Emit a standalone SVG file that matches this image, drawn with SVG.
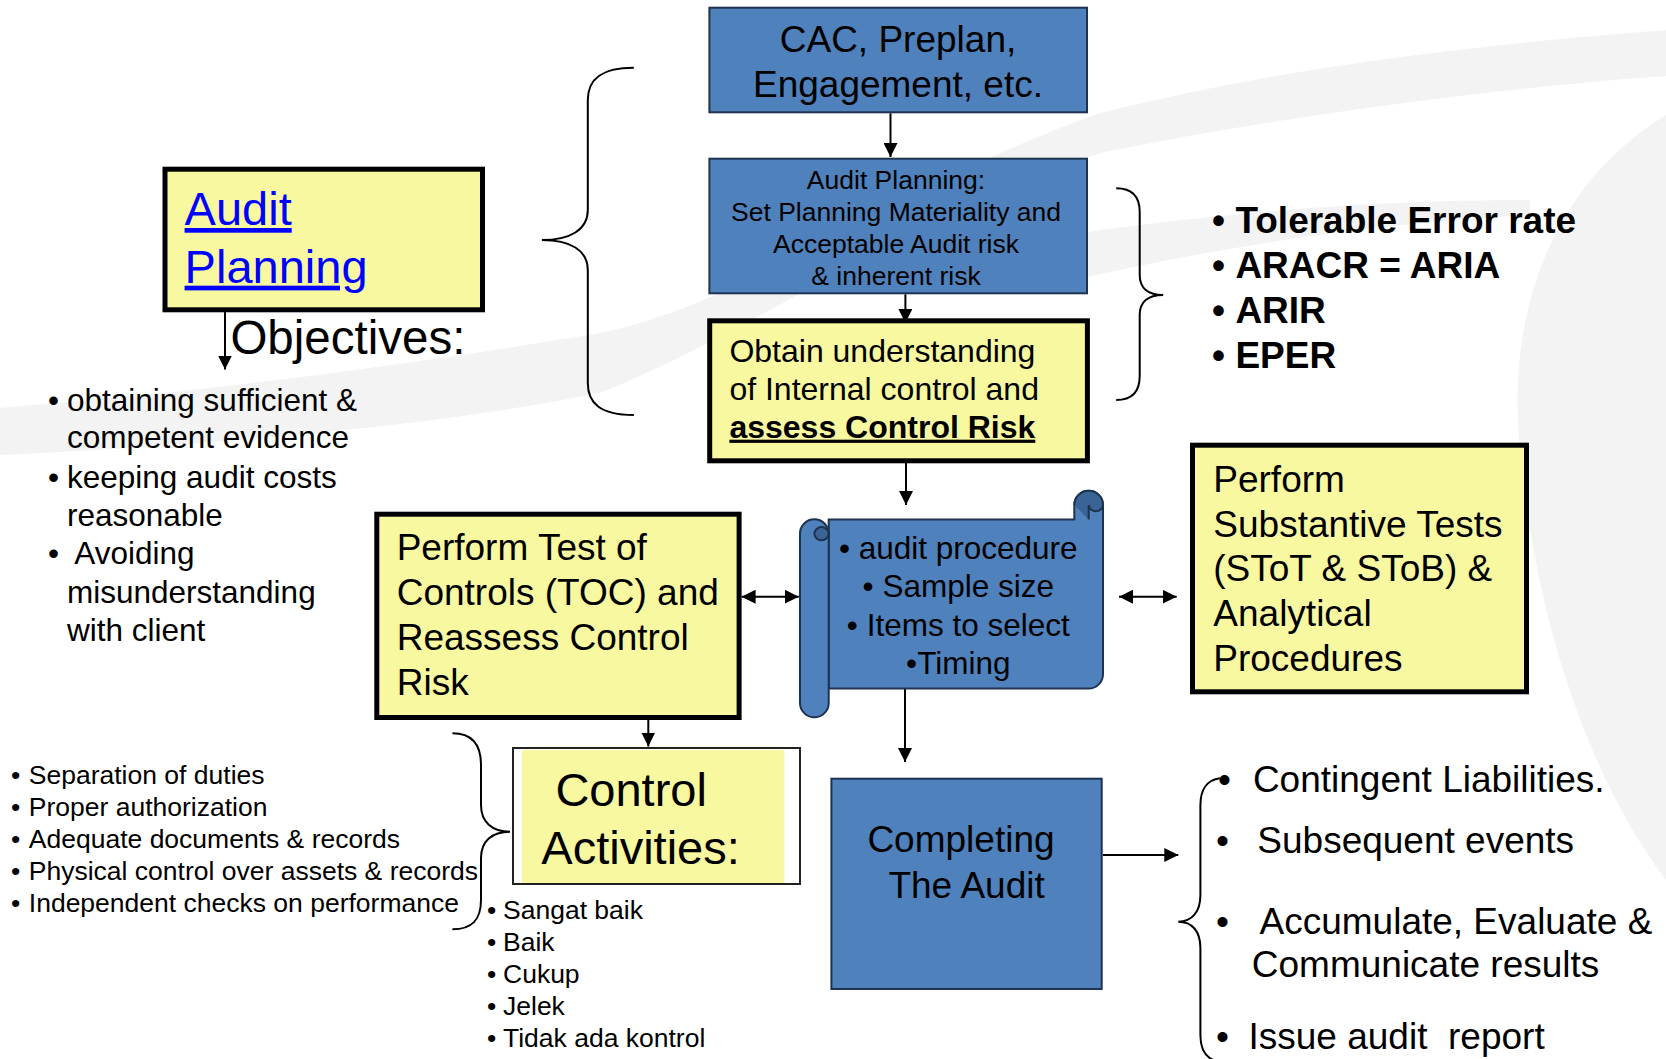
<svg xmlns="http://www.w3.org/2000/svg" width="1666" height="1059" viewBox="0 0 1666 1059">
<style>
.t{font-family:"Liberation Sans",Arial,sans-serif;fill:#000;white-space:pre}
.b{font-weight:bold}
.blue{fill:#4F81BD;stroke:#1E3350;stroke-width:2}
.yel{fill:#F8F8A0;stroke:#000;stroke-width:5}
.ln{stroke:#000;stroke-width:2;fill:none}
.br{stroke:#000;stroke-width:2;fill:none}
.bg{fill:#F3F3F3}
.dk{fill:#3A6496;stroke:#1E3350;stroke-width:2}
</style>
<defs>
<marker id="ah" viewBox="0 0 14 14" refX="14" refY="7" markerWidth="14" markerHeight="14" markerUnits="userSpaceOnUse" orient="auto-start-reverse">
<path d="M0,0 L14,7 L0,14 Z" fill="#000"/>
</marker>
</defs>
<rect width="1666" height="1059" fill="#fff"/>
<g id="background">
<path class="bg" d="M0,408 C250,388 450,358 600,333 C750,303 900,183 1100,113 C1300,63 1500,43 1666,30 L1666,76 C1500,88 1300,113 1100,153 C900,223 750,333 600,393 C450,423 250,443 0,455 Z"/>
<path class="bg" d="M1030,240 C1200,215 1350,200 1530,200 L1530,215 C1350,225 1200,250 1030,290 Z"/>
<path class="bg" d="M1666,115 C1560,180 1505,300 1520,450 C1535,620 1590,780 1666,880 Z"/>
</g>
<g id="connectors">
<line class="ln" x1="890.5" y1="113.3" x2="890.5" y2="157" marker-end="url(#ah)"/>
<line class="ln" x1="905.4" y1="294.3" x2="905.4" y2="323" marker-end="url(#ah)"/>
<line class="ln" x1="906" y1="463" x2="906" y2="505" marker-end="url(#ah)"/>
<line class="ln" x1="225" y1="312" x2="225" y2="369.5" marker-end="url(#ah)"/>
<line class="ln" x1="741.6" y1="596.7" x2="798.8" y2="596.7" marker-start="url(#ah)" marker-end="url(#ah)"/>
<line class="ln" x1="1119" y1="596.7" x2="1176.7" y2="596.7" marker-start="url(#ah)" marker-end="url(#ah)"/>
<line class="ln" x1="648.3" y1="720" x2="648.3" y2="746.5" marker-end="url(#ah)"/>
<line class="ln" x1="905" y1="689" x2="905" y2="762" marker-end="url(#ah)"/>
<line class="ln" x1="1102.7" y1="855" x2="1178.3" y2="855" marker-end="url(#ah)"/>
<path class="br" d="M633.8,67.7 C600,67.7 587.8,80 587.8,100 L587.8,210 C587.8,230 570,240 541.9,240 C570,240 587.8,250 587.8,270 L587.8,383 C587.8,403 600,415 633.8,415"/>
<path class="br" d="M1116.2,188.3 C1132,188.3 1139.7,196 1139.7,212 L1139.7,275 C1139.7,288 1148,295 1163.2,295 C1148,295 1139.7,302 1139.7,315 L1139.7,376 C1139.7,392 1132,400 1116.2,400"/>
<path class="br" d="M452.4,733.3 C472,733.3 481,745 481,765 L481,805 C481,822 492,831.7 510,831.7 C492,831.7 481,841 481,858 L481,900 C481,920 472,929.3 452.4,929.3"/>
<path class="br" d="M1219.8,778.3 C1207,780 1200.4,790 1200.4,805 L1200.4,895 C1200.4,912 1192,921.7 1178.3,921.7 C1192,921.7 1200.4,931 1200.4,948 L1200.4,1035 C1200.4,1050 1206,1058 1216,1061"/>
</g>
<g id="audit-planning-title">
<rect class="yel" x="165" y="169.2" width="317.5" height="140.6"/>
<text class="t" font-size="47" style="fill:#0000FF" text-decoration="underline"><tspan x="184.6" y="225">Audit</tspan><tspan x="184.6" y="282.7">Planning</tspan></text>
</g>
<g id="objectives">
<text class="t" x="230.4" y="354.3" font-size="47.5">Objectives:</text>
<text class="t" font-size="31.5">
<tspan x="48" y="410.5">•</tspan><tspan x="67" y="410.5">obtaining sufficient &amp;</tspan>
<tspan x="67" y="448">competent evidence</tspan>
<tspan x="48" y="487.5">•</tspan><tspan x="67" y="487.5">keeping audit costs</tspan>
<tspan x="67" y="526">reasonable</tspan>
<tspan x="48" y="564.3">•</tspan><tspan x="74.3" y="564.3">Avoiding</tspan>
<tspan x="67" y="603.3">misunderstanding</tspan>
<tspan x="67" y="641">with client</tspan>
</text>
</g>
<g id="cac">
<rect class="blue" x="709.4" y="7.7" width="377.6" height="104.6"/>
<text class="t" font-size="37" text-anchor="middle"><tspan x="898" y="52">CAC, Preplan,</tspan><tspan x="898" y="97">Engagement, etc.</tspan></text>
</g>
<g id="audit-planning">
<rect class="blue" x="709.4" y="158.7" width="377.6" height="134.6"/>
<text class="t" font-size="26.5" text-anchor="middle"><tspan x="896" y="189.3">Audit Planning:</tspan><tspan x="896" y="221">Set Planning Materiality and</tspan><tspan x="896" y="252.7">Acceptable Audit risk</tspan><tspan x="896" y="285">&amp; inherent risk</tspan></text>
</g>
<g id="obtain">
<rect class="yel" x="709.7" y="320.8" width="377.7" height="140"/>
<text class="t" font-size="32"><tspan x="729.4" y="361.5">Obtain understanding</tspan><tspan x="729.4" y="399.8">of Internal control and</tspan><tspan x="729.4" y="437.7" font-weight="bold" text-decoration="underline">assess Control Risk</tspan></text>
</g>
<g id="risk-list">
<text class="t b" font-size="37">
<tspan x="1212" y="232.7">•</tspan><tspan x="1235.4" y="232.7">Tolerable Error rate</tspan>
<tspan x="1212" y="277.8">•</tspan><tspan x="1235.4" y="277.8">ARACR = ARIA</tspan>
<tspan x="1212" y="322.7">•</tspan><tspan x="1235.4" y="322.7">ARIR</tspan>
<tspan x="1212" y="367.8">•</tspan><tspan x="1235.4" y="367.8">EPER</tspan>
</text>
</g>
<g id="toc">
<rect class="yel" x="376.8" y="514.2" width="362.3" height="203.3"/>
<text class="t" font-size="37"><tspan x="396.7" y="560">Perform Test of</tspan><tspan x="396.7" y="605">Controls (TOC) and</tspan><tspan x="396.7" y="650">Reassess Control</tspan><tspan x="396.7" y="694.5">Risk</tspan></text>
</g>
<g id="procedures">
<path class="blue" d="M828.7,519.4 L1074.3,519.4 L1074.3,505 A14.35,14.35 0 0 1 1103,505 L1103,674.3 A14.35,14.35 0 0 1 1088.7,688.6 L828.7,688.6 Z"/>
<path class="dk" d="M1074.3,505 A14.35,14.35 0 0 1 1103,505 A7.2,7.2 0 0 1 1088.7,505 L1088.7,519.4"/>
<path class="blue" d="M800,533.7 A14.35,14.35 0 0 1 828.7,533.7 L828.7,703 A14.35,14.35 0 0 1 800,703 Z"/>
<path class="dk" d="M828.7,533.7 A7.2,7.2 0 0 0 814.35,533.7 A7.2,7.2 0 0 0 828.7,533.7 Z"/>
<text class="t" font-size="31.5" text-anchor="middle"><tspan x="958.3" y="559.3">• audit procedure</tspan><tspan x="958.3" y="596.5">• Sample size</tspan><tspan x="958.3" y="636">• Items to select</tspan><tspan x="958.3" y="673.7">•Timing</tspan></text>
</g>
<g id="substantive">
<rect class="yel" x="1192.5" y="445.2" width="334" height="246.6"/>
<text class="t" font-size="37"><tspan x="1213.3" y="492">Perform</tspan><tspan x="1213.3" y="536.7">Substantive Tests</tspan><tspan x="1213.3" y="581.4">(SToT &amp; SToB) &amp;</tspan><tspan x="1213.3" y="626.1">Analytical</tspan><tspan x="1213.3" y="670.8">Procedures</tspan></text>
</g>
<g id="control-activities">
<rect x="513" y="748" width="287" height="136" fill="#fff" stroke="#222" stroke-width="2"/>
<rect x="522" y="750" width="262.5" height="133" fill="#F8F8A0"/>
<text class="t" font-size="47"><tspan x="555.4" y="806">Control</tspan><tspan x="541.3" y="863.7">Activities:</tspan></text>
</g>
<g id="control-list">
<text class="t" font-size="26.5">
<tspan x="11" y="784.3">•</tspan><tspan x="28.8" y="784.3">Separation of duties</tspan>
<tspan x="11" y="816">•</tspan><tspan x="28.8" y="816">Proper authorization</tspan>
<tspan x="11" y="847.7">•</tspan><tspan x="28.8" y="847.7">Adequate documents &amp; records</tspan>
<tspan x="11" y="879.5">•</tspan><tspan x="28.8" y="879.5">Physical control over assets &amp; records</tspan>
<tspan x="11" y="911.5">•</tspan><tspan x="28.8" y="911.5">Independent checks on performance</tspan>
</text>
</g>
<g id="rating-list">
<text class="t" font-size="26.5">
<tspan x="487" y="919.3">•</tspan><tspan x="503" y="919.3">Sangat baik</tspan>
<tspan x="487" y="951">•</tspan><tspan x="503" y="951">Baik</tspan>
<tspan x="487" y="982.7">•</tspan><tspan x="503" y="982.7">Cukup</tspan>
<tspan x="487" y="1015">•</tspan><tspan x="503" y="1015">Jelek</tspan>
<tspan x="487" y="1047">•</tspan><tspan x="503" y="1047">Tidak ada kontrol</tspan>
</text>
</g>
<g id="completing">
<rect class="blue" x="831.4" y="778.7" width="270.3" height="210.3"/>
<text class="t" font-size="37"><tspan x="867.4" y="852">Completing</tspan><tspan x="888.4" y="897.7">The Audit</tspan></text>
</g>
<g id="completing-list">
<text class="t" font-size="37">
<tspan x="1218" y="791.7">•</tspan><tspan x="1252.9" y="791.7">Contingent Liabilities.</tspan>
<tspan x="1216" y="853">•</tspan><tspan x="1257.3" y="853">Subsequent events</tspan>
<tspan x="1216" y="933.7">•</tspan><tspan x="1259.5" y="933.7">Accumulate, Evaluate &amp;</tspan>
<tspan x="1251.8" y="977">Communicate results</tspan>
<tspan x="1216" y="1049.3">•</tspan><tspan x="1248.5" y="1049.3">Issue audit  report</tspan>
</text>
</g>
</svg>
